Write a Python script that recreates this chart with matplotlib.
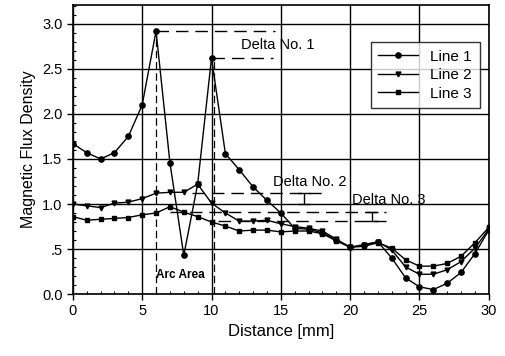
# Magnetic flux density along the distance, three measuring lines
import numpy as np
import matplotlib.pyplot as plt
from matplotlib.ticker import MultipleLocator, FuncFormatter

plt.rcParams['font.family'] = ['Liberation Sans', 'DejaVu Sans']

distance = list(range(0, 31))
line1 = [1.67, 1.57, 1.50, 1.57, 1.75, 2.10, 2.92, 1.46, 0.43, 1.22, 2.62,
         1.56, 1.38, 1.19, 1.04, 0.90, 0.73, 0.72, 0.68, 0.60, 0.52,
         0.55, 0.58, 0.40, 0.18, 0.08, 0.05, 0.12, 0.24, 0.45, 0.71]
line2 = [1.00, 0.98, 0.96, 1.01, 1.02, 1.06, 1.12, 1.13, 1.13, 1.22, 1.01,
         0.90, 0.81, 0.81, 0.82, 0.78, 0.75, 0.73, 0.70, 0.61, 0.52,
         0.54, 0.58, 0.49, 0.30, 0.22, 0.22, 0.27, 0.36, 0.51, 0.72]
line3 = [0.86, 0.82, 0.83, 0.84, 0.85, 0.88, 0.90, 0.97, 0.91, 0.86, 0.80,
         0.755, 0.70, 0.71, 0.71, 0.69, 0.70, 0.70, 0.67, 0.59, 0.52,
         0.53, 0.57, 0.51, 0.38, 0.31, 0.31, 0.34, 0.42, 0.57, 0.74]
labels = ['Line 1', 'Line 2', 'Line 3']

# delta levels (start x, end x, y)
delta1 = [(6, 14.6, 2.92), (10, 14.4, 2.62)]
delta2 = [(8.6, 18.0, 1.12)]
delta3 = [(7.0, 22.6, 0.915), (10.5, 22.6, 0.815)]
bar2 = (16.7, 1.0, 1.12)
bar3 = (21.6, 0.815, 0.915)
arc_x = [6, 10.2]
arc_top = [2.92, 2.62]

fig = plt.figure(figsize=(5.06, 3.56), dpi=100)
ax = fig.add_axes([0.144, 0.174, 0.822, 0.812])

ax.grid(True, which='major', color='black', lw=1.0)
ax.set_axisbelow(True)

ax.plot(distance, line1, '-o', color='black', lw=1, ms=3.8, label=labels[0])
ax.plot(distance, line2, '-v', color='black', lw=1, ms=3.5, label=labels[1])
ax.plot(distance, line3, '-s', color='black', lw=1, ms=3.2, label=labels[2])

for x0, x1, y in delta1 + delta2 + delta3:
    ax.plot([x0, x1], [y, y], color='black', lw=1, dashes=(9, 5))
for x, y in zip(arc_x, arc_top):
    ax.plot([x, x], [0, y], color='black', lw=0.9, dashes=(6, 3))
for x, y0, y1 in [bar2, bar3]:
    ax.errorbar(x, (y0 + y1) / 2, yerr=(y1 - y0) / 2, color='black',
                lw=1, capsize=4, capthick=1)

ax.text(14.8, 2.77, 'Delta No. 1', ha='center', va='center', fontsize=10.5)
ax.text(17.1, 1.24, 'Delta No. 2', ha='center', va='center', fontsize=10.5)
ax.text(22.8, 1.04, 'Delta No. 3', ha='center', va='center', fontsize=10.5)
ax.text(6.0, 0.21, 'Arc Area', ha='left', va='center', fontsize=8.5,
        fontweight='bold')

ax.set_xlim(0, 30)
ax.set_ylim(0, 3.21)
ax.xaxis.set_major_locator(MultipleLocator(5))
ax.xaxis.set_minor_locator(MultipleLocator(1))
ax.yaxis.set_major_locator(MultipleLocator(0.5))
ax.yaxis.set_minor_locator(MultipleLocator(0.1))
ax.yaxis.set_major_formatter(FuncFormatter(
    lambda v, p: '.5' if abs(v - 0.5) < 1e-6 else f'{v:.1f}'))
ax.tick_params(which='major', direction='out', length=4, width=1,
               labelsize=10.5)
ax.tick_params(which='minor', direction='in', length=2.5, width=0.8)
for s in ax.spines.values():
    s.set_linewidth(1.2)

ax.set_xlabel('Distance [mm]', fontsize=12)
ax.set_ylabel('Magnetic Flux Density', fontsize=11.5)

leg = ax.legend(loc='upper right', bbox_to_anchor=(0.978, 0.872),
                borderaxespad=0, fontsize=11, frameon=True, fancybox=False,
                edgecolor='black', handlelength=2.6, borderpad=0.5,
                labelspacing=0.3)
leg.get_frame().set_linewidth(1.0)

fig.savefig('out.png', dpi=100)
